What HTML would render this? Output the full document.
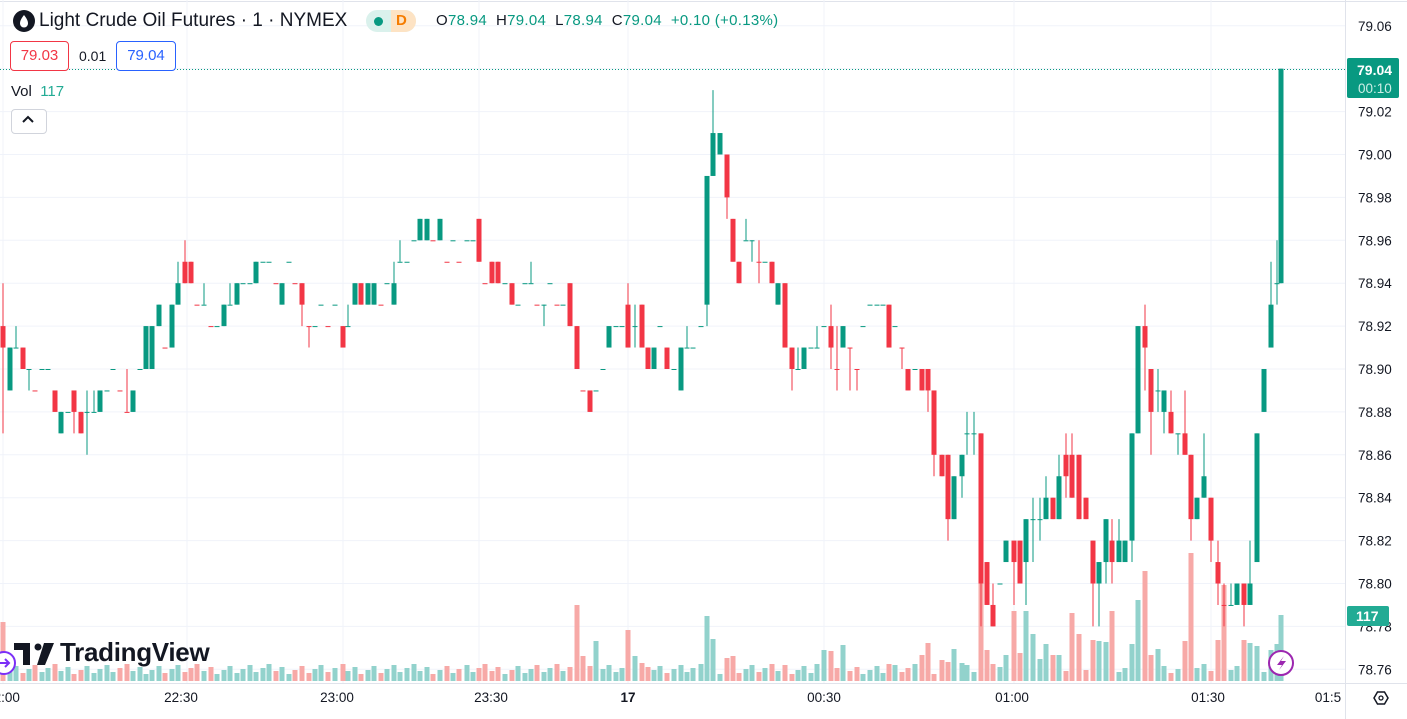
<!DOCTYPE html>
<html><head><meta charset="utf-8">
<style>
html,body{margin:0;padding:0;background:#fff;width:1407px;height:719px;overflow:hidden;font-family:"Liberation Sans",sans-serif;}
#c{position:absolute;left:0;top:0;}
.t{position:absolute;white-space:nowrap;color:#131722;}
</style></head><body>
<svg id="c" width="1407" height="719" xmlns="http://www.w3.org/2000/svg"></svg>
<div class="t" style="left:13px;top:10px;width:22px;height:22px;border-radius:50%;background:#131722;"></div>
<svg style="position:absolute;left:13px;top:10px" width="22" height="22"><path d="M11 5 C8 9 7 11 7 13.5 A4 4 0 0 0 15 13.5 C15 11 14 9 11 5Z" fill="#fff"/></svg>
<div class="t" style="left:39px;top:10px;font-size:19px;letter-spacing:0px;">Light Crude Oil Futures · 1 · NYMEX</div>
<div class="t" style="left:366px;top:10px;width:50px;height:22px;border-radius:11px;background:#daf1ec;"></div>
<div class="t" style="left:391px;top:10px;width:25px;height:22px;border-radius:0 11px 11px 0;background:#fde3c4;"></div>
<div class="t" style="left:374px;top:17px;width:9px;height:9px;border-radius:50%;background:#089981;"></div>
<div class="t" style="left:396px;top:12px;font-size:15px;font-weight:bold;color:#f57c00;">D</div>
<div class="t" style="left:436px;top:12px;font-size:15px;letter-spacing:0.3px;">O<span style="color:#089981">78.94</span>&nbsp; H<span style="color:#089981">79.04</span>&nbsp; L<span style="color:#089981">78.94</span>&nbsp; C<span style="color:#089981">79.04</span>&nbsp; <span style="color:#089981">+0.10 (+0.13%)</span></div>
<div class="t" style="left:10px;top:41px;width:57px;height:28px;border:1px solid #f23645;border-radius:4px;background:#fff;color:#f23645;font-size:15px;line-height:28px;text-align:center;">79.03</div>
<div class="t" style="left:79px;top:48px;font-size:14px;">0.01</div>
<div class="t" style="left:116px;top:41px;width:58px;height:28px;border:1px solid #2962ff;border-radius:4px;background:#fff;color:#2962ff;font-size:15px;line-height:28px;text-align:center;">79.04</div>
<div class="t" style="left:11px;top:83px;font-size:15px;">Vol&nbsp; <span style="color:#22ab94">117</span></div>
<div class="t" style="left:11px;top:109px;width:34px;height:23px;border:1px solid #d1d4dc;border-radius:4px;background:#fff;"></div>
<svg style="position:absolute;left:21px;top:114px" width="14" height="12"><path d="M2 8 L7 3 L12 8" fill="none" stroke="#131722" stroke-width="2"/></svg>
<svg style="position:absolute;left:14px;top:643px" width="40" height="22"><path d="M0 0H16V22H9V7H0Z" fill="#131722"/><path d="M30 0H40L31 22H23Z" fill="#131722"/><circle cx="24" cy="4" r="3.5" fill="#131722"/></svg>
<div class="t" style="left:60px;top:637px;font-size:26px;font-weight:bold;letter-spacing:-0.3px;">TradingView</div>
<script>
const s=document.getElementById('c');let h='';
const Y=u=>369-(u-90)*21.45;
h+='<rect x="0" y="0" width="1407" height="719" fill="#fff"/>';
h+='<line x1="0" y1="1.5" x2="1407" y2="1.5" stroke="#e0e3eb"/>';
for(let u=76;u<=106;u+=2){const y=Y(u);h+=`<line x1="0" y1="${y}" x2="1345" y2="${y}" stroke="#f0f3fa"/>`;}
[3,187,343,479,628,824,1014,1211].forEach(x=>h+=`<line x1="${x}" y1="0" x2="${x}" y2="683" stroke="#f0f3fa"/>`);
h+='<line x1="1345.5" y1="0" x2="1345.5" y2="719" stroke="#e0e3eb"/><line x1="0" y1="683.5" x2="1407" y2="683.5" stroke="#e0e3eb"/>';
const D=[[3,92,91,94,87],[10,89,91],[16,91,91,92,91],[23,91,90],[29,90,90,90,89],[35,89,89],[42,90,90],[48,90,90],[55,89,88],[61,87,88],[68,88,88],[74,89,88,89,87],[81,88,87],[87,88,88,89,86],[94,88,88,89,88],[100,88,89],[107,89,89],[113,90,90],[120,89,89],[127,88,88,90,88],[133,88,89],[140,90,90],[146,90,92],[152,90,92],[159,92,93],[165,91,91],[172,91,93],[178,93,94,95,93],[185,95,94,96,94],[191,95,94],[197,93,93],[204,93,93,94,93],[211,92,92],[217,92,92],[224,92,93],[230,93,93,94,93],[237,93,94],[243,94,94],[250,94,94],[256,94,95],[263,95,95],[269,95,95],[276,94,94],[282,93,94],[289,95,95],[295,94,94],[302,94,93,94,92],[309,92,92,92,91],[315,92,92],[321,93,93],[328,92,92],
[335,93,93],[343,92,91],[348,92,92,93,92],[355,93,94],[361,94,93],[368,93,94],[374,93,94],[381,93,93],[387,94,94],[394,93,94,95,93],[400,95,95,96,95],[407,95,95],[414,96,96],[420,96,97],[427,96,97],[433,96,96],[440,96,97],[447,95,95],[453,96,96],[459,95,95],[467,96,96],[473,96,96],[479,97,95],[485,94,94],[492,95,94],[498,95,94],[505,94,94],[512,94,93],[518,93,93],[525,94,94],[531,94,94,95,94],[537,93,93],[544,93,93,93,92],[550,94,94],[557,93,93],[563,93,93],[570,94,92],[577,92,90],[583,89,89],[590,89,88],[596,89,89],[603,90,90],[609,91,92],[616,92,92],[622,92,92],[628,93,91,94,91],[635,92,92,93,91],[642,93,91],[648,91,90],[654,90,91],
[660,92,92],[667,91,90],[674,90,90],[681,89,91],[687,91,91,92,91],[693,91,91],[701,92,92],[707,93,99,99,92],[713,99,101,103,99],[720,100,101],[727,100,98,100,97],[733,97,95],[739,95,94],[746,96,96,97,96],[752,96,96,96,95],[759,95,95,96,94],[765,95,95],[772,95,94],[778,93,94],[785,94,91],[792,91,90,91,89],[798,90,90,91,90],[804,90,91],[811,91,91],[817,91,91,92,91],[824,92,92],[831,92,91,93,90],[837,90,90,92,89],[843,91,92],[850,91,91,91,89],[857,90,90,90,89],[863,92,92],[870,93,93],[877,93,93],[883,93,93],[889,93,91],[895,92,92],[902,91,91,91,90],[908,90,89],[915,90,90],[922,90,89],[928,90,89,90,88],[934,89,86,89,85],[942,86,85],[948,86,83,86,82],[954,83,85],[962,85,86,86,84],[967,87,87,88,86],[974,87,87,88,86],[981,87,80,87,78],[987,81,79],
[993,79,78,80,78],[1000,80,80],[1006,81,82],[1014,82,81,82,79],[1020,82,80],[1026,81,83,83,79],[1033,83,83,84,81],[1040,83,83,84,82],[1046,83,84,85,83],[1053,84,83],[1059,83,85,86,83],[1066,86,85,87,84],[1072,86,84,87,84],[1079,86,83],[1086,84,83],[1093,82,80,82,78],[1099,80,81,81,78],[1106,81,83,83,80],[1112,82,81,83,80],[1119,81,82,83,81],[1125,81,82],[1132,82,87,87,81],[1138,87,92],[1145,92,91,93,89],[1151,90,88,90,86],[1158,89,89,90,88],[1164,88,89,89,87],[1171,88,87,89,87],[1178,87,87,87,86],[1185,87,86,89,86],[1191,86,83,86,82],[1197,83,84],[1204,84,85,87,84],[1211,84,82,84,81],[1218,81,80,82,79],[1224,79,79,80,78],[1231,79,79,80,79],[1237,79,80],[1244,80,79,80,78],[1250,79,80,82,79],[1257,81,87],[1264,88,90],[1271,91,93,95,91],[1277,94,94,96,93],[1281,94,104]];
const V={577:605,583:656,596:641,628:630,635:656,642:663,648:667,707:616,713:639,727:658,733:656,785:665,817:664,824:650,831:651,843:645,889:664,922:655,928:643,942:660,948:662,954:649,962:663,981:510,987:650,993:664,1006:655,1014:611,1020:653,1026:611,1033:634,1040:659,1046:644,1053:655,1059:655,1072:613,1079:634,1093:640,1099:641,1106:642,1112:611,1132:644,1138:600,1145:571,1151:655,1158:649,1185:641,1191:553,1218:640,1224:585,1244:640,1250:643,1257:646,1271:650,1277:644,1281:615,3:622};
let vh='',ch='';
D.forEach((d,i)=>{const[x,o,c]=d;const hi=d[3]!==undefined?d[3]:Math.max(o,c),lo=d[4]!==undefined?d[4]:Math.min(o,c);
const up=c>=o&&!(c==o&&i>0&&D[i-1][2]>o);const col=(c>o||(c==o&&up))?'#089981':'#f23645';
const vt=V[x]!==undefined?V[x]:(674-((i*37)%11));
vh+=`<rect x="${x-2.5}" y="${vt}" width="5" height="${681-vt}" fill="${col==='#089981'?'#92d2cc':'#f7a9a7'}"/>`;
ch+=`<line x1="${x}" y1="${Y(hi)}" x2="${x}" y2="${Y(lo)}" stroke="${col}" stroke-width="1"/>`;
const t=Y(Math.max(o,c)),b=Y(Math.min(o,c));ch+=`<rect x="${x-2.5}" y="${t}" width="5" height="${Math.max(1,b-t)}" fill="${col}"/>`;});
h+=vh+ch;
h+=`<line x1="0" y1="69.5" x2="1345" y2="69.5" stroke="#089981" stroke-dasharray="1,2"/>`;
for(let u=76;u<=106;u+=2){if(u==104)continue;h+=`<text x="1358" y="${Y(u)+5}" font-size="13.5" fill="#131722" font-family="Liberation Sans">${(78+u/100).toFixed(2)}</text>`;}
h+='<rect x="1347" y="58" width="52" height="40" rx="2" fill="#089981"/><text x="1357" y="75" font-size="14" font-weight="bold" fill="#fff" font-family="Liberation Sans">79.04</text><text x="1358" y="93" font-size="13.5" fill="#cdeee6" font-family="Liberation Sans">00:10</text>';
h+='<rect x="1347" y="606" width="42" height="20" rx="2" fill="#22ab94"/><text x="1356" y="621" font-size="14" font-weight="bold" fill="#fff" font-family="Liberation Sans">117</text>';
[[3,'22:00'],[181,'22:30'],[337,'23:00'],[491,'23:30'],[824,'00:30'],[1012,'01:00'],[1208,'01:30'],[1328,'01:5']].forEach(([x,t])=>h+=`<text x="${x}" y="702" font-size="13.5" fill="#131722" text-anchor="middle" font-family="Liberation Sans">${t}</text>`);
h+='<text x="628" y="702" font-size="13.5" font-weight="bold" fill="#131722" text-anchor="middle" font-family="Liberation Sans">17</text>';
h+='<path d="M1374 698L1377.5 692H1384.5L1388 698L1384.5 704H1377.5Z" fill="none" stroke="#131722" stroke-width="1.5"/><circle cx="1381" cy="698" r="2" fill="none" stroke="#131722" stroke-width="1.3"/>';
h+='<circle cx="4" cy="663" r="11" fill="#fff" stroke="#7b2ff7" stroke-width="2"/><path d="M-2 663H9M5 659L9 663L5 667" stroke="#7b2ff7" stroke-width="2" fill="none"/>';
h+='<circle cx="1281" cy="663" r="12" fill="#fff" stroke="#9c27b0" stroke-width="2"/><path d="M1284 656L1277 665H1282L1279 670L1286 661H1281Z" fill="#9c27b0"/>';
s.innerHTML=h;
</script>
</body></html>
